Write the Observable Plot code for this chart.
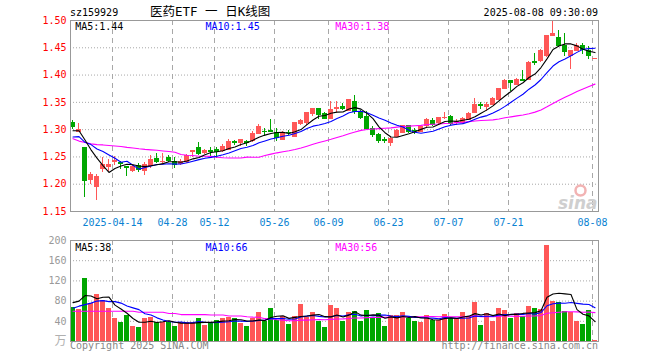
<!DOCTYPE html>
<html><head><meta charset="utf-8">
<script src="https://cdn.jsdelivr.net/npm/d3@7"></script>
<script src="https://cdn.jsdelivr.net/npm/@observablehq/plot@0.6"></script>
<style>
body{margin:0;background:#fff;}
#wrap{position:relative;width:660px;height:360px;font-family:"DejaVu Sans Mono",monospace;overflow:hidden;background:#fff}
.t{position:absolute;white-space:nowrap;font-size:10px;line-height:1;color:#000}
#price,#vol{position:absolute;left:0}
#price{top:0px} #vol{top:232px}
</style></head><body>
<div id="wrap">
 <div class="t" style="left:70px;top:8px">sz159929</div>
 <div class="t" style="left:150px;top:6px;font-size:12.5px;font-family:'DejaVu Sans Mono','Noto Sans CJK SC'">医药ETF 一 日K线图</div>
 <div class="t" style="right:62px;top:8px">2025-08-08 09:30:09</div>
 <div id="price"></div><div id="vol"></div>
 <div class="t" style="left:70px;top:341px;color:#888">Copyright 2025 SINA.COM</div>
 <div class="t" style="right:62px;top:341px;color:#888">http://finance.sina.com.cn</div>
</div>
<script>
const open = [1.3122,1.2951,1.267,1.2073,1.1957,1.2287,1.2311,1.2402,1.239,1.2317,
1.2244,1.2329,1.2238,1.2341,1.2463,1.2405,1.2482,1.2409,1.2378,1.2402,
1.2591,1.2665,1.2573,1.261,1.2634,1.2604,1.2634,1.2774,1.2756,1.2774,
1.2787,1.2927,1.2963,1.2976,1.2936,1.2811,1.2947,1.2872,1.3098,1.3116,
1.328,1.3378,1.328,1.3189,1.3378,1.3409,1.3341,1.35,1.3317,1.3238,
1.3006,1.2902,1.2805,1.275,1.286,1.2945,1.3067,1.2982,1.2963,1.3067,
1.3165,1.3116,1.3207,1.3226,1.3128,1.3128,1.3177,1.3311,1.3446,1.342,
1.3456,1.3548,1.3743,1.3896,1.3823,1.3902,1.3914,1.4232,1.425,1.4341,
1.472,1.4677,1.4525,1.4354,1.4445,1.4525,1.4433,1.4293];
const high = [1.3165,1.311,1.267,1.2207,1.2177,1.2494,1.245,1.2512,1.2421,1.233,
1.2341,1.2378,1.239,1.2524,1.2561,1.2561,1.253,1.2482,1.2451,1.2543,
1.2616,1.2756,1.2634,1.2665,1.2665,1.2726,1.2817,1.2805,1.2817,1.2805,
1.297,1.3091,1.3012,1.3183,1.3018,1.2963,1.298,1.3134,1.3177,1.3311,
1.339,1.339,1.3317,1.3524,1.3512,1.347,1.3555,1.3634,1.3348,1.333,
1.3055,1.2933,1.286,1.286,1.2994,1.3085,1.3085,1.3012,1.3085,1.3207,
1.3207,1.3226,1.3317,1.3268,1.3195,1.322,1.3311,1.3573,1.3505,1.3505,
1.3597,1.3762,1.3914,1.3896,1.3945,1.4085,1.425,1.4402,1.4464,1.472,
1.4982,1.4818,1.4757,1.4445,1.4573,1.4586,1.4525,1.4305];
const low = [1.301,1.2939,1.1762,1.1994,1.1707,1.2207,1.2238,1.234,1.2268,1.2146,
1.222,1.2207,1.2159,1.228,1.2378,1.236,1.239,1.228,1.2341,1.2378,
1.2482,1.253,1.2543,1.2463,1.247,1.2573,1.2622,1.2707,1.2695,1.2695,
1.2756,1.2909,1.2878,1.296,1.278,1.2793,1.2885,1.286,1.3085,1.3085,
1.325,1.3189,1.3177,1.3177,1.3317,1.3348,1.3329,1.328,1.3189,1.2994,
1.286,1.2738,1.275,1.2689,1.2854,1.2921,1.2921,1.2902,1.295,1.3037,
1.3055,1.3085,1.319,1.3073,1.3073,1.3098,1.3159,1.3299,1.3365,1.3334,
1.3438,1.353,1.3731,1.37,1.381,1.3884,1.3908,1.4177,1.4232,1.4329,
1.4708,1.4512,1.4341,1.4109,1.4433,1.4384,1.4293,1.4287];
const close = [1.3043,1.2988,1.2055,1.2165,1.214,1.236,1.236,1.242,1.2378,1.2305,
1.2317,1.2256,1.236,1.2451,1.2402,1.2415,1.2433,1.236,1.2402,1.2524,
1.2604,1.2561,1.2616,1.2598,1.2598,1.2689,1.2768,1.2762,1.2817,1.2762,
1.2927,1.3043,1.2951,1.2963,1.285,1.2945,1.2935,1.3116,1.3159,1.3299,
1.3378,1.3268,1.3195,1.336,1.3402,1.3384,1.3543,1.3329,1.322,1.3012,
1.2902,1.2793,1.2793,1.2829,1.2982,1.3067,1.2951,1.297,1.3055,1.3177,
1.3085,1.3207,1.322,1.3104,1.3146,1.3189,1.3287,1.3451,1.3438,1.3445,
1.356,1.3743,1.3896,1.3853,1.3914,1.389,1.422,1.422,1.4445,1.4708,
1.4757,1.4525,1.4421,1.4445,1.4525,1.4451,1.4341,1.4299];
const volume = [67,63,125,75,93,82,65,45,37,51,
30,28,45,47,38,38,38,30,38,37,
37,45,32,38,42,45,48,45,35,30,
45,58,39,66,42,49,33,49,74,47,
58,40,27,72,65,39,58,60,39,62,
45,55,30,52,52,58,45,39,38,52,
42,42,53,45,45,58,50,78,32,56,
40,66,62,45,56,49,70,66,64,190,
80,78,60,58,40,34,62,2];
const ma5Price = [1.298,1.298,1.281,1.263,1.2478,1.2342,1.2216,1.2289,1.2332,1.2365,
1.2356,1.2335,1.2323,1.2338,1.2357,1.2377,1.2412,1.2412,1.2402,1.2427,
1.2465,1.249,1.2541,1.2581,1.2595,1.2612,1.2654,1.2683,1.2727,1.276,
1.2807,1.2862,1.29,1.2929,1.2947,1.295,1.2929,1.2962,1.3001,1.3091,
1.3177,1.3244,1.326,1.33,1.3321,1.3322,1.3377,1.3404,1.3376,1.3298,
1.3201,1.3051,1.2944,1.2866,1.286,1.2893,1.2924,1.296,1.3005,1.3044,
1.3048,1.3099,1.3149,1.3159,1.3152,1.3173,1.3189,1.3235,1.3302,1.3362,
1.3436,1.3527,1.3616,1.3699,1.3793,1.3859,1.3955,1.4019,1.4138,1.4297,
1.447,1.4531,1.4571,1.4571,1.4535,1.4473,1.4437,1.4412];
const ma10Price = [1.2866,1.2872,1.2768,1.2726,1.2646,1.2598,1.2537,1.2476,1.2402,1.2421,
1.2349,1.2276,1.2306,1.2335,1.2361,1.2366,1.2374,1.2368,1.237,1.2392,
1.2421,1.2451,1.2477,1.2492,1.2511,1.2539,1.2572,1.2612,1.2654,1.2678,
1.271,1.2758,1.2792,1.2828,1.2853,1.2879,1.2896,1.2931,1.2965,1.3019,
1.3064,1.3086,1.3111,1.3151,1.3206,1.325,1.331,1.3332,1.3338,1.3309,
1.3262,1.3214,1.3174,1.3121,1.3079,1.3047,1.2988,1.2952,1.2935,1.2952,
1.297,1.3012,1.3054,1.3082,1.3098,1.311,1.3144,1.3192,1.323,1.3257,
1.3305,1.3358,1.3426,1.3501,1.3578,1.3648,1.3741,1.3818,1.3919,1.4045,
1.4165,1.4243,1.4295,1.4355,1.4416,1.4472,1.4484,1.4492];
const ma30Price = [1.2835,1.279,1.2765,1.274,1.2725,1.272,1.271,1.270,1.269,1.2675,
1.2665,1.265,1.2638,1.263,1.2622,1.261,1.260,1.2585,1.2545,1.253,
1.2525,1.2512,1.2512,1.251,1.2495,1.2485,1.248,1.248,1.248,1.2497,
1.2493,1.2495,1.2525,1.2551,1.2575,1.2595,1.2614,1.2637,1.2663,1.2696,
1.2731,1.2765,1.2793,1.2823,1.2857,1.2889,1.2926,1.2958,1.2986,1.3002,
1.3012,1.3019,1.3025,1.3033,1.3046,1.3058,1.3065,1.3072,1.3079,1.3093,
1.3099,1.3104,1.3113,1.3118,1.3128,1.3136,1.3147,1.3159,1.3168,1.3173,
1.3179,1.3195,1.3218,1.3234,1.3252,1.3268,1.3291,1.3321,1.3361,1.3418,
1.348,1.3538,1.3592,1.3646,1.3697,1.3743,1.379,1.3834];
const ma5Vol = [77,80,91,90,84.6,87.6,88,72,64.4,56,
45.6,38.2,38.2,40.2,37.6,39.2,41.2,38.2,36.4,36.2,
36,37.4,37.8,37.8,38.8,40.4,41,43.6,43,40.6,
40.6,42.6,41.4,47.6,50,50.8,45.8,47.8,49.4,50.4,
52.2,53.6,49.2,48.8,52.4,48.6,52.2,58.8,52.2,51.6,
52.8,52.2,46.2,48.8,46.8,49.4,47.4,49.2,46.4,46.4,
43.2,42.6,45.4,46.8,45.4,48.6,50.2,55.2,52.6,54.8,
51.2,54.4,51.2,53.8,53.8,55.6,56.4,57.2,61,87.8,
94,95.6,94.4,93.2,63.2,54,50.8,39.2];
const ma10Vol = [66,70,73,76,80,81,79,79,76,70.3,
66.6,63.1,55.1,52.3,46.8,42.4,39.7,38.2,38.3,36.9,
37.6,39.3,38,37.1,37.5,38.2,39.2,40.7,40.4,39.7,
40.5,41.8,42.5,45.3,45.3,45.7,44.2,44.6,48.5,50.2,
51.5,49.7,48.5,49.1,51.4,50.4,52.9,54,50.5,52,
50.7,52.2,52.5,50.5,49.2,51.1,49.8,47.7,47.6,46.6,
46.3,45,47.3,46.6,45.9,45.9,46.4,50.3,49.7,50.1,
49.9,52.3,53.2,53.2,54.3,53.4,55.4,54.2,57.4,70.8,
74.8,76,75.8,77.1,75.5,74,73.2,66.8];
const ma30Vol = [60,60,60,60,60,60,60,60,60,60,
60,58,58,58,58,58,55.5,55.5,53.3,53.3,
53.3,53.3,53.3,52.5,52.5,52.5,50.5,50.5,50.5,49,
48.2,48.1,45.2,44.9,43.2,42.1,41,41.2,42.4,42.3,
43.2,43.6,43,43.8,44.7,44.8,45.4,46.4,46.5,47.3,
47.6,47.9,47.8,48.3,48.6,49.1,49,48.8,48.9,49.6,
49.5,49,49.4,48.7,48.8,49.1,49.7,50.7,49.3,49.6,
49,49.8,51,50.1,49.8,50.1,50.5,50.7,51.6,55.8,
57,57.8,58.8,59,58.6,57.8,58.3,57.1];
const dateTickIndex = [7,17,24,34,43,53,63,73,87];
const dateTickLabels = ["2025-04-14","04-28","05-12","05-26","06-09","06-23","07-07","07-21","08-08"];
const priceTicks = [1.15,1.20,1.25,1.30,1.35,1.40,1.45,1.50];
const volTicks = [40,80,120,160,200];
const priceMaLabels = ["MA5:1.44","MA10:1.45","MA30:1.38"];
const volMaLabels = ["MA5:38","MA10:66","MA30:56"];
const maColors = ["#000000","#0000ff","#ff00ff"];

const RED = "#ff5757", GREEN = "#00a600";
const FONT = "DejaVu Sans Mono, monospace";
const n = close.length;
const idx = d3.range(n);
const candleColor = i => close[i] >= open[i] ? RED : GREEN;
const labelDx = [4.7, 135, 264.7];
const center = i => i + 5/12;

const price = Plot.plot({
  width: 660, height: 232,
  marginLeft: 70, marginRight: 62, marginTop: 20, marginBottom: 21,
  style: {fontFamily: FONT, fontSize: "10px", background: "transparent"},
  x: {type: "linear", domain: [0, 88], axis: null},
  y: {domain: [1.15, 1.50], axis: null},
  color: {type: "identity"},
  marks: [
    Plot.ruleY(priceTicks.slice(1, -1), {stroke: "#a8a8a8", strokeDasharray: "1,2"}),
    Plot.ruleX(dateTickIndex, {stroke: "#a8a8a8", strokeDasharray: "5,4"}),
    Plot.dot([0], {frameAnchor: "bottom-right", dx: -18, dy: -21, r: 5, stroke: "#f2b3b3", strokeWidth: 2.5, fill: "none"}),
    Plot.text(["sina"], {frameAnchor: "bottom-right", textAnchor: "end", lineAnchor: "bottom", dx: -1, dy: -3,
      fontSize: 17, fontStyle: "italic", fontWeight: "bold", fontFamily: "DejaVu Sans", fill: "#cfcfcf"}),
    Plot.ruleX(idx, {x: i => i + 1/3, y1: i => low[i], y2: i => high[i], stroke: candleColor, shapeRendering: "crispEdges"}),
    Plot.rect(idx, {x1: i => i, x2: i => i + 5/6, y1: i => open[i], y2: i => close[i], fill: candleColor,
      insetTop: -0.5, insetBottom: -0.5, shapeRendering: "crispEdges"}),
    Plot.line(idx, {x: center, y: i => ma30Price[i], stroke: maColors[2], strokeWidth: 1.1}),
    Plot.line(idx, {x: center, y: i => ma10Price[i], stroke: maColors[1], strokeWidth: 1.1}),
    Plot.line(idx, {x: center, y: i => ma5Price[i], stroke: maColors[0], strokeWidth: 1.1}),
    Plot.frame({stroke: "#999", shapeRendering: "crispEdges"}),
    Plot.text(priceTicks, {y: d => d, frameAnchor: "left", textAnchor: "end", dx: -4, fill: "#ff0000",
      text: d => d.toFixed(2)}),
    Plot.text(dateTickIndex, {x: d => d, frameAnchor: "bottom", lineAnchor: "middle", dy: 11, fill: "#0a82d2",
      text: (d, i) => dateTickLabels[dateTickIndex.indexOf(d)]}),
    ...priceMaLabels.map((s, k) => Plot.text([s], {frameAnchor: "top-left", textAnchor: "start", lineAnchor: "top",
      dx: labelDx[k], dy: 2.7, fill: maColors[k]}))
  ]
});
document.getElementById("price").append(price);

const vol = Plot.plot({
  width: 660, height: 128,
  marginLeft: 70, marginRight: 62, marginTop: 8, marginBottom: 19,
  style: {fontFamily: FONT, fontSize: "10px", background: "transparent"},
  x: {type: "linear", domain: [0, 88], axis: null},
  y: {domain: [0, 200], axis: null},
  color: {type: "identity"},
  marks: [
    Plot.ruleY(volTicks.slice(0, -1), {stroke: "#a8a8a8", strokeDasharray: "1,2"}),
    Plot.ruleX(dateTickIndex, {stroke: "#a8a8a8", strokeDasharray: "5,4"}),
    Plot.rect(idx, {x1: i => i, x2: i => i + 5/6, y1: 0, y2: i => volume[i], fill: candleColor, shapeRendering: "crispEdges"}),
    Plot.line(idx, {x: center, y: i => ma30Vol[i], stroke: maColors[2], strokeWidth: 1.1}),
    Plot.line(idx, {x: center, y: i => ma10Vol[i], stroke: maColors[1], strokeWidth: 1.1}),
    Plot.line(idx, {x: center, y: i => ma5Vol[i], stroke: maColors[0], strokeWidth: 1.1}),
    Plot.frame({stroke: "#999", shapeRendering: "crispEdges"}),
    Plot.text(volTicks, {y: d => d, frameAnchor: "left", textAnchor: "end", dx: -4, fill: "#999"}),
    Plot.text(["万"], {frameAnchor: "bottom-left", textAnchor: "end", lineAnchor: "middle", dx: -4, dy: 0,
      fontFamily: "Noto Sans CJK SC", fontSize: 12, fill: "#b0b0b0"}),
    ...volMaLabels.map((s, k) => Plot.text([s], {frameAnchor: "top-left", textAnchor: "start", lineAnchor: "top",
      dx: labelDx[k], dy: 3.3, fill: maColors[k]}))
  ]
});
document.getElementById("vol").append(vol);
</script>
</body></html>
